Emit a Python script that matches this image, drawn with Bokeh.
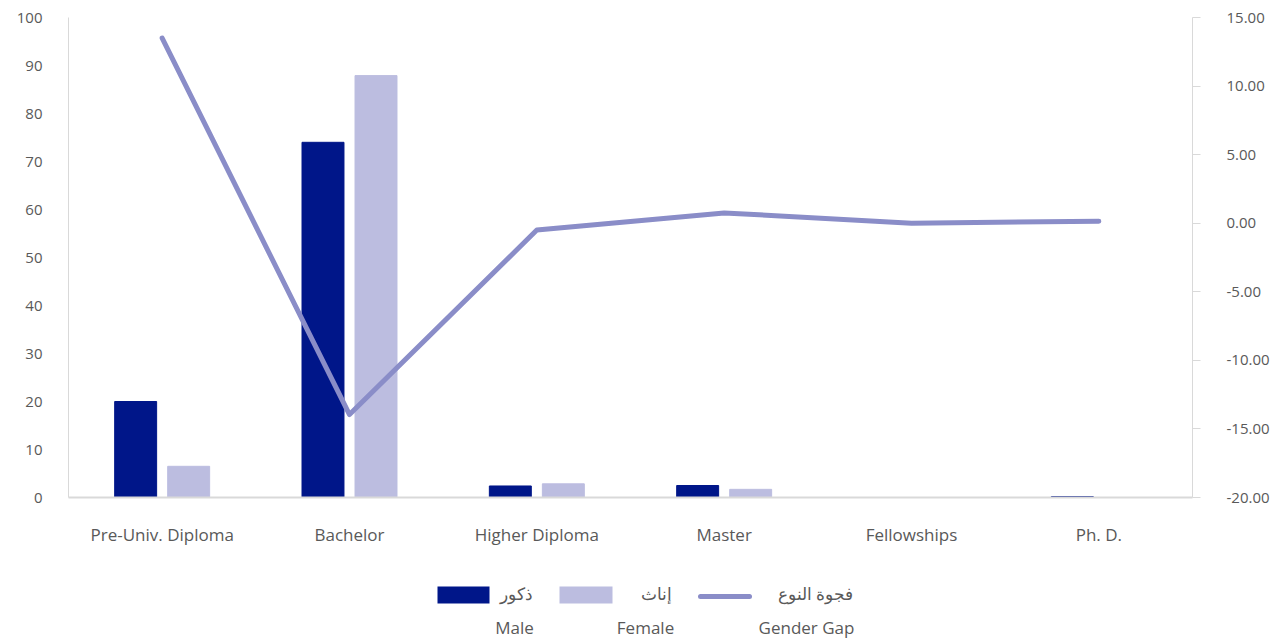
from bokeh.plotting import figure
from bokeh.models import FactorRange, Range1d, LinearAxis, FixedTicker, NumeralTickFormatter, ColumnDataSource
from bokeh.transform import dodge
from bokeh.layouts import column
from bokeh.core.properties import value
from bokeh.embed import file_html
from bokeh.resources import INLINE

categories = ["Pre-Univ. Diploma", "Bachelor", "Higher Diploma", "Master", "Fellowships", "Ph. D."]
male = [20.0, 74.0, 2.4, 2.5, 0.0, 0.2]
female = [6.5, 87.9, 2.85, 1.7, 0.0, 0.0]
gender_gap = [13.5, -13.95, -0.5, 0.75, 0.0, 0.15]
left_ticks = [0, 10, 20, 30, 40, 50, 60, 70, 80, 90, 100]
right_ticks = [-20, -15, -10, -5, 0, 5, 10, 15]
legend_ar = ["ذكور", "إناث", "فجوة النوع"]
legend_en = ["Male", "Female", "Gender Gap"]

MALE_C = "#001689"
FEMALE_C = "#bcbde0"
GAP_C = "#8a8dc8"
TXT_C = "#595959"
AXIS_C = "#d9d9d9"
FONT = "Open Sans"

W = 1280
FL, FR = 68, 1192
src = ColumnDataSource(dict(cat=categories, male=male, female=female, gap=gender_gap))

p = figure(width=W, height=556, x_range=FactorRange(*categories, range_padding=0),
           y_range=Range1d(0, 100), output_backend="svg", toolbar_location=None,
           min_border_left=FL, min_border_right=W - FR, min_border_top=17, min_border_bottom=59)
p.extra_y_ranges = {"gap": Range1d(-20, 15)}
p.outline_line_color = None
p.xgrid.grid_line_color = None
p.ygrid.grid_line_color = None

p.vbar(x=dodge("cat", -0.1415, range=p.x_range), top="male", width=0.224, source=src,
       fill_color=MALE_C, line_color=MALE_C)
p.vbar(x=dodge("cat", 0.1415, range=p.x_range), top="female", width=0.224, source=src,
       fill_color=FEMALE_C, line_color=FEMALE_C)
p.line(x="cat", y="gap", source=src, y_range_name="gap", line_color=GAP_C,
       line_width=5, line_cap="round", line_join="round")

# left axis
la = p.yaxis[0]
la.ticker = FixedTicker(ticks=left_ticks)
la.major_tick_out = 0
la.major_tick_in = 0
la.minor_tick_out = 0
la.minor_tick_in = 0
la.axis_line_color = AXIS_C
la.major_label_standoff = 26
la.major_label_text_color = TXT_C
la.major_label_text_font = FONT
la.major_label_text_font_size = "15px"

# bottom axis
xa = p.xaxis[0]
xa.axis_line_color = AXIS_C
xa.axis_line_width = 2
xa.major_tick_out = 0
xa.major_tick_in = 0
xa.major_label_standoff = 25
xa.major_label_text_color = TXT_C
xa.major_label_text_font = FONT
xa.major_label_text_font_size = "17px"

# right axis
ra = LinearAxis(y_range_name="gap", ticker=FixedTicker(ticks=right_ticks),
                formatter=NumeralTickFormatter(format="0.00"))
ra.axis_line_color = AXIS_C
ra.major_tick_line_color = AXIS_C
ra.major_tick_out = 8
ra.major_tick_in = 0
ra.minor_tick_out = 0
ra.minor_tick_in = 0
ra.major_label_standoff = 26
ra.major_label_text_color = TXT_C
ra.major_label_text_font = FONT
ra.major_label_text_font_size = "15px"
p.add_layout(ra, "right")

# legend figure (coordinates are page pixels, y downward); frame aligned with main frame
LH = 82
lg = figure(width=W, height=LH, x_range=Range1d(FL, FR), y_range=Range1d(LH, 0),
            output_backend="svg", toolbar_location=None, min_border=0,
            min_border_left=FL, min_border_right=W - FR)
lg.outline_line_color = None
lg.axis.visible = False
lg.xgrid.grid_line_color = None
lg.ygrid.grid_line_color = None

lg.quad(left=[437], right=[489], top=[30], bottom=[47], fill_color=MALE_C, line_color=None)
lg.quad(left=[559], right=[612], top=[30], bottom=[47], fill_color=FEMALE_C, line_color=None)
lg.line(x=[700, 749], y=[40, 40], line_color=GAP_C, line_width=5, line_cap="round")

lg.text(x=[516, 656, 815], y=[37, 37, 37], text=legend_ar, text_align="center",
        text_baseline="middle", text_color=TXT_C, text_font=value(FONT), text_font_size="17px")
lg.text(x=[514, 645, 806], y=[71, 71, 71], text=legend_en, text_align="center",
        text_baseline="middle", text_color=TXT_C, text_font=value(FONT), text_font_size="17px")

layout = column(p, lg, spacing=0)
open("out.html", "w").write(file_html(layout, INLINE))
